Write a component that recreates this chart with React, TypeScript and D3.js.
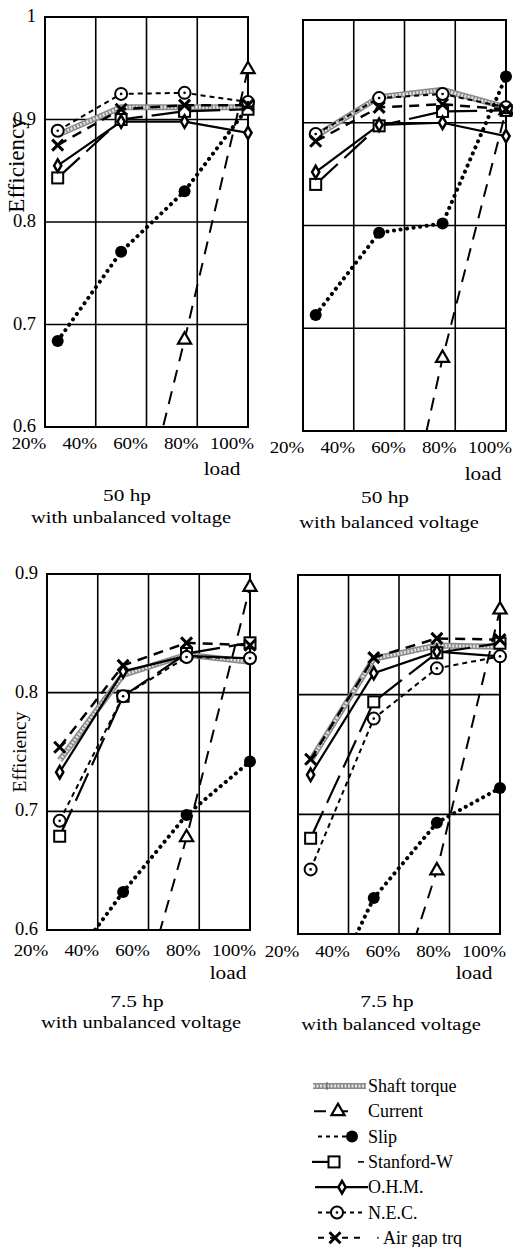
import * as d3 from "d3";

// load points (% of rated load) and axis ticks
const loads = [25, 50, 75, 100];
const xTicks = [20, 40, 60, 80, 100];
const xTickLabels = ["20%", "40%", "60%", "80%", "100%"];

// 50 hp, unbalanced voltage
const shaft50u = [0.885, 0.912, 0.912, 0.912];
const current50u = [null, 0.435, 0.685, 0.949];
const slip50u = [0.684, 0.771, 0.83, 0.912];
const stanford50u = [0.843, 0.9, 0.908, 0.91];
const ohm50u = [0.855, 0.898, 0.898, 0.887];
const nec50u = [0.889, 0.925, 0.926, 0.917];
const airgap50u = [0.875, 0.91, 0.914, 0.914];

// 50 hp, balanced voltage
const shaft50b = [0.887, 0.925, 0.932, 0.915];
const current50b = [null, 0.39, 0.671, 0.912];
const slip50b = [0.713, 0.793, 0.802, 0.945];
const stanford50b = [0.84, 0.897, 0.911, 0.912];
const ohm50b = [0.852, 0.898, 0.9, 0.887];
const nec50b = [0.889, 0.924, 0.928, 0.915];
const airgap50b = [0.882, 0.915, 0.918, 0.913];

// 7.5 hp, unbalanced voltage
const shaft75u = [0.743, 0.815, 0.832, 0.826];
const current75u = [null, 0.49, 0.678, 0.889];
const slip75u = [0.56, 0.632, 0.697, 0.742];
const stanford75u = [0.679, 0.797, 0.833, 0.842];
const ohm75u = [0.733, 0.818, 0.831, 0.829];
const nec75u = [0.692, 0.797, 0.83, 0.829];
const airgap75u = [0.754, 0.823, 0.842, 0.84];

// 7.5 hp, balanced voltage
const shaft75b = [0.745, 0.83, 0.841, 0.84];
const current75b = [null, 0.49, 0.653, 0.871];
const slip75b = [0.52, 0.63, 0.693, 0.722];
const stanford75b = [0.68, 0.794, 0.835, 0.843];
const ohm75b = [0.733, 0.818, 0.836, 0.832];
const nec75b = [0.654, 0.78, 0.822, 0.832];
const airgap75b = [0.746, 0.831, 0.847, 0.846];

const seriesKeys = ["current", "slip", "stanford", "ohm", "nec", "airgap"];
const legendNames = ["Shaft torque", "Current", "Slip", "Stanford-W", "O.H.M.", "N.E.C.", "Air gap trq"];

const lineStyle = {
  current: { dash: "13 9", w: 2, cap: "butt" },
  slip: { dash: "0.1 6.5", w: 4, cap: "round" },
  stanford: { dash: "30 9", w: 2.2, cap: "butt" },
  ohm: { dash: null, w: 2.2, cap: "butt" },
  nec: { dash: "5 4", w: 2, cap: "butt" },
  airgap: { dash: "10 7", w: 2.5, cap: "butt" },
};

const FONT = "'Liberation Serif', 'Times New Roman', serif";

const panels = [
  {
    id: "p1", x0: 45, x1: 248, y0: 17, y1: 427, dom: [0.6, 1], yTicks: [0.6, 0.7, 0.8, 0.9, 1],
    showY: true, effY: 165, effSize: 23, tickBase: 449, loadX: 222, loadY: 475,
    title: "50 hp", sub: "with unbalanced voltage", titleX: 127, titleY: 501, subY: 523,
    data: { shaft: shaft50u, current: current50u, slip: slip50u, stanford: stanford50u, ohm: ohm50u, nec: nec50u, airgap: airgap50u },
  },
  {
    id: "p2", x0: 303, x1: 506, y0: 20, y1: 431, dom: [0.6, 1], yTicks: [0.6, 0.7, 0.8, 0.9, 1],
    showY: false, tickBase: 453, loadX: 483, loadY: 480,
    title: "50 hp", sub: "with balanced voltage", titleX: 385, titleY: 503, subY: 528,
    data: { shaft: shaft50b, current: current50b, slip: slip50b, stanford: stanford50b, ohm: ohm50b, nec: nec50b, airgap: airgap50b },
  },
  {
    id: "p3", x0: 47, x1: 250, y0: 574, y1: 930, dom: [0.6, 0.9], yTicks: [0.6, 0.7, 0.8, 0.9],
    showY: true, effY: 752, effSize: 19.5, tickBase: 956, loadX: 228, loadY: 979,
    title: "7.5 hp", sub: "with unbalanced voltage", titleX: 137, titleY: 1007, subY: 1028,
    data: { shaft: shaft75u, current: current75u, slip: slip75u, stanford: stanford75u, ohm: ohm75u, nec: nec75u, airgap: airgap75u },
  },
  {
    id: "p4", x0: 298, x1: 500, y0: 575, y1: 934, dom: [0.6, 0.9], yTicks: [0.6, 0.7, 0.8, 0.9],
    showY: false, tickBase: 957, loadX: 474, loadY: 979,
    title: "7.5 hp", sub: "with balanced voltage", titleX: 387, titleY: 1007, subY: 1030,
    data: { shaft: shaft75b, current: current75b, slip: slip75b, stanford: stanford75b, ohm: ohm75b, nec: nec75b, airgap: airgap75b },
  },
];

function T({ x, y, size = 18, sx = 1, anchor = "middle", children }) {
  return (
    <text
      transform={`translate(${x},${y}) scale(${sx},1)`}
      fontSize={size}
      fontFamily={FONT}
      textAnchor={anchor}
      fill="#000"
    >
      {children}
    </text>
  );
}

function Marker({ kind, x, y }) {
  if (kind === "current") {
    const p = d3.symbol(d3.symbolTriangle, 75)();
    return <path d={p} transform={`translate(${x},${y})`} fill="#fff" stroke="#000" strokeWidth={2.2} />;
  }
  if (kind === "slip") return <circle cx={x} cy={y} r={6} fill="#000" />;
  if (kind === "stanford")
    return <rect x={x - 5.5} y={y - 5.5} width={11} height={11} fill="#fff" stroke="#000" strokeWidth={2} />;
  if (kind === "ohm") {
    const p = d3.symbol(d3.symbolDiamond, 45)();
    return <path d={p} transform={`translate(${x},${y})`} fill="#fff" stroke="#000" strokeWidth={2.5} />;
  }
  if (kind === "nec")
    return (
      <g>
        <circle cx={x} cy={y} r={6} fill="#fff" stroke="#000" strokeWidth={2} />
        <circle cx={x} cy={y} r={1.3} fill="#000" />
      </g>
    );
  if (kind === "airgap")
    return (
      <g stroke="#000" strokeWidth={3}>
        <line x1={x - 5.5} y1={y - 5.5} x2={x + 5.5} y2={y + 5.5} />
        <line x1={x - 5.5} y1={y + 5.5} x2={x + 5.5} y2={y - 5.5} />
      </g>
    );
  return null;
}

function ShaftLine({ d }) {
  return (
    <g fill="none">
      <path d={d} stroke="#8a8a8a" strokeWidth={6} />
      <path d={d} stroke="#e2e2e2" strokeWidth={3} strokeDasharray="2 1.5" />
    </g>
  );
}

function Panel({ p }) {
  const x = d3.scaleLinear().domain([20, 100]).range([p.x0, p.x1]);
  const y = d3.scaleLinear().domain(p.dom).range([p.y1, p.y0]);
  const line = d3
    .line()
    .defined((v) => v != null)
    .x((v, i) => x(loads[i]))
    .y((v) => y(v));
  const inside = (v) => v != null && v >= p.dom[0] && v <= p.dom[1];

  return (
    <g>
      <defs>
        <clipPath id={`clip-${p.id}`}>
          <rect x={p.x0} y={p.y0} width={p.x1 - p.x0} height={p.y1 - p.y0} />
        </clipPath>
      </defs>
      {/* grid */}
      <g stroke="#000" strokeWidth={1.6}>
        {p.yTicks.map((t) => (
          <line key={t} x1={p.x0} x2={p.x1} y1={y(t)} y2={y(t)} />
        ))}
        {xTicks.map((t) => (
          <line key={t} x1={x(t)} x2={x(t)} y1={p.y0} y2={p.y1} />
        ))}
        <rect x={p.x0} y={p.y0} width={p.x1 - p.x0} height={p.y1 - p.y0} fill="none" strokeWidth={2} />
      </g>

      <g clipPath={`url(#clip-${p.id})`}>
        <ShaftLine d={line(p.data.shaft)} />
        {seriesKeys.map((k) => {
          const s = lineStyle[k];
          return (
            <path
              key={k}
              d={line(p.data[k])}
              fill="none"
              stroke="#000"
              strokeWidth={s.w}
              strokeDasharray={s.dash || undefined}
              strokeLinecap={s.cap}
            />
          );
        })}
      </g>

      {seriesKeys.map((k) =>
        p.data[k].map((v, i) =>
          inside(v) ? <Marker key={k + i} kind={k} x={x(loads[i])} y={y(v)} /> : null
        )
      )}

      {/* y labels */}
      {p.showY &&
        p.yTicks.map((t) => (
          <T key={t} x={p.x0 - 9} y={y(t) + 5} size={18.5} anchor="end">
            {t === 1 ? "1" : t.toFixed(1)}
          </T>
        ))}
      {p.showY && (
        <text
          transform={`translate(${p.x0 - 21},${p.effY}) rotate(-90)`}
          fontSize={p.effSize}
          fontFamily={FONT}
          textAnchor="middle"
        >
          Efficiency
        </text>
      )}

      {/* x labels */}
      {xTicks.map((t, i) => (
        <T key={t} x={x(t) - 16} y={p.tickBase} size={16.5} sx={1.15}>
          {xTickLabels[i]}
        </T>
      ))}
      <T x={p.loadX} y={p.loadY} size={18.5} sx={1.15}>
        load
      </T>
      <T x={p.titleX} y={p.titleY} size={17.5} sx={1.22}>
        {p.title}
      </T>
      <T x={p.titleX + 4} y={p.subY} size={17.5} sx={1.17}>
        {p.sub}
      </T>
    </g>
  );
}

function Legend() {
  const rowY = (i) => 1086 + i * 25.3;
  const textX = 368;
  return (
    <g>
      {legendNames.map((name, i) => (
        <T key={name} x={name === "Air gap trq" ? 383 : textX} y={rowY(i) + 6} size={18} anchor="start">
          {name}
        </T>
      ))}
      {/* Shaft torque */}
      <ShaftLine d={`M313,${rowY(0)}H366`} />
      <line x1={327} x2={327} y1={rowY(0) - 4} y2={rowY(0) + 4} stroke="#555" strokeWidth={1} />
      {/* Current */}
      <line x1={314} x2={356} y1={rowY(1)} y2={rowY(1)} stroke="#000" strokeWidth={2} strokeDasharray="12 10" />
      <Marker kind="current" x={338} y={rowY(1)} />
      {/* Slip */}
      <line x1={318} x2={350} y1={rowY(2)} y2={rowY(2)} stroke="#000" strokeWidth={2} strokeDasharray="4 4" />
      <Marker kind="slip" x={352} y={rowY(2)} />
      {/* Stanford-W */}
      <line x1={312} x2={330} y1={rowY(3)} y2={rowY(3)} stroke="#000" strokeWidth={2.2} />
      <Marker kind="stanford" x={334} y={rowY(3)} />
      <line x1={358} x2={364} y1={rowY(3)} y2={rowY(3)} stroke="#000" strokeWidth={1.6} />
      {/* O.H.M. */}
      <line x1={315} x2={368} y1={rowY(4)} y2={rowY(4)} stroke="#000" strokeWidth={2.2} />
      <Marker kind="ohm" x={342} y={rowY(4)} />
      {/* N.E.C. */}
      <line x1={318} x2={364} y1={rowY(5)} y2={rowY(5)} stroke="#000" strokeWidth={2} strokeDasharray="4 4" />
      <Marker kind="nec" x={337} y={rowY(5)} />
      {/* Air gap trq */}
      <line x1={318} x2={366} y1={rowY(6)} y2={rowY(6)} stroke="#000" strokeWidth={2} strokeDasharray="6 6" />
      <Marker kind="airgap" x={335} y={rowY(6)} />
      <circle cx={378} cy={rowY(6)} r={0.9} fill="#000" />
    </g>
  );
}

export default function App() {
  return (
    <svg
      width={513}
      height={1247}
      viewBox="0 0 513 1247"
      style={{ position: "absolute", left: 0, top: 0, background: "#fff" }}
    >
      <rect width={513} height={1247} fill="#fff" />
      {panels.map((p) => (
        <Panel key={p.id} p={p} />
      ))}
      <Legend />
    </svg>
  );
}
